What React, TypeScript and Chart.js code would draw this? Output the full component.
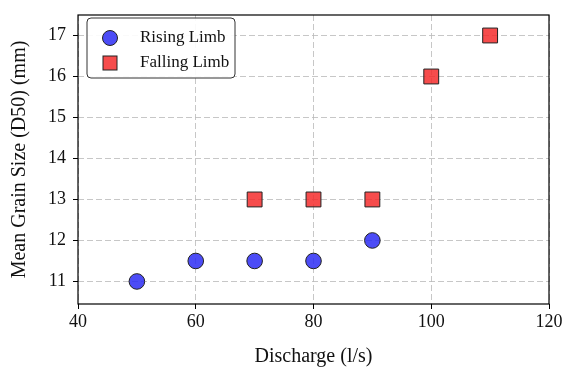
import React, { useEffect, useRef } from "react";
import { Chart, registerables } from "chart.js";

Chart.register(...registerables);

const risingX = [50, 60, 70, 80, 90];
const risingY = [11, 11.5, 11.5, 11.5, 12];
const fallingX = [70, 80, 90, 100, 110];
const fallingY = [13, 13, 13, 16, 17];
const xTicks = [40, 60, 80, 100, 120];
const yTicks = [11, 12, 13, 14, 15, 16, 17];
const seriesNames = ["Rising Limb", "Falling Limb"];

const FONT = "'Liberation Serif', 'Times New Roman', serif";
const BLUE = "rgba(45,45,245,0.85)";
const RED = "rgba(245,45,45,0.85)";

const framePlugin = {
  id: "frame",
  afterDraw(chart: any) {
    const { ctx, chartArea: a } = chart;
    ctx.save();
    ctx.strokeStyle = "#000";
    ctx.lineWidth = 1.2;
    ctx.setLineDash([]);
    ctx.strokeRect(a.left, a.top, a.right - a.left, a.bottom - a.top);

    // legend
    const lx = a.left + 9, ly = a.top + 3, lw = 148, lh = 60;
    const r = 4;
    ctx.beginPath();
    ctx.moveTo(lx + r, ly);
    ctx.lineTo(lx + lw - r, ly);
    ctx.quadraticCurveTo(lx + lw, ly, lx + lw, ly + r);
    ctx.lineTo(lx + lw, ly + lh - r);
    ctx.quadraticCurveTo(lx + lw, ly + lh, lx + lw - r, ly + lh);
    ctx.lineTo(lx + r, ly + lh);
    ctx.quadraticCurveTo(lx, ly + lh, lx, ly + lh - r);
    ctx.lineTo(lx, ly + r);
    ctx.quadraticCurveTo(lx, ly, lx + r, ly);
    ctx.closePath();
    ctx.fillStyle = "rgba(255,255,255,0.9)";
    ctx.fill();
    ctx.strokeStyle = "#333";
    ctx.lineWidth = 1;
    ctx.stroke();

    ctx.font = `17px ${FONT}`;
    ctx.textBaseline = "middle";
    ctx.textAlign = "left";
    const y1 = ly + 20, y2 = ly + 45;
    ctx.beginPath();
    ctx.arc(lx + 23, y1, 7.5, 0, Math.PI * 2);
    ctx.fillStyle = BLUE;
    ctx.fill();
    ctx.strokeStyle = "#222";
    ctx.lineWidth = 1;
    ctx.stroke();
    ctx.fillStyle = "#111";
    ctx.fillText(seriesNames[0], lx + 53, y1);
    ctx.fillStyle = RED;
    ctx.fillRect(lx + 16, y2 - 7, 14, 14);
    ctx.strokeStyle = "#222";
    ctx.strokeRect(lx + 16, y2 - 7, 14, 14);
    ctx.fillStyle = "#111";
    ctx.fillText(seriesNames[1], lx + 53, y2);
    ctx.restore();
  },
};

const gridOpts = {
  color: "rgba(185,185,185,0.8)",
  tickColor: "#000",
  tickLength: 5,
  tickBorderDash: [],
  tickWidth: 1,
  lineWidth: 1,
};

export default function App() {
  const ref = useRef<HTMLCanvasElement>(null);
  useEffect(() => {
    const chart = new Chart(ref.current!, {
      type: "scatter",
      data: {
        datasets: [
          {
            label: seriesNames[0],
            data: risingX.map((x, i) => ({ x, y: risingY[i] })),
            pointStyle: "circle",
            pointRadius: 7.8,
            backgroundColor: BLUE,
            borderColor: "#222",
            borderWidth: 1,
          },
          {
            label: seriesNames[1],
            data: fallingX.map((x, i) => ({ x, y: fallingY[i] })),
            pointStyle: "rect",
            pointRadius: 10.5,
            backgroundColor: RED,
            borderColor: "#222",
            borderWidth: 1,
          },
        ],
      },
      options: {
        animation: false,
        responsive: false,
        layout: { padding: { left: 0, right: 16, top: 15, bottom: 0 } },
        plugins: { legend: { display: false }, tooltip: { enabled: false } },
        scales: {
          x: {
            type: "linear",
            min: 40,
            max: 120,
            afterBuildTicks: (s: any) => {
              s.ticks = xTicks.map((v) => ({ value: v }));
            },
            afterFit: (s: any) => {
              s.height = 69;
              s.paddingLeft = 0;
              s.paddingRight = 0;
            },
            border: { display: false, dash: [6, 3] },
            grid: gridOpts,
            ticks: {
              color: "#111",
              font: { family: FONT, size: 18 },
              padding: 2,
              maxRotation: 0,
            },
            title: {
              display: true,
              text: "Discharge (l/s)",
              color: "#111",
              font: { family: FONT, size: 20 },
              padding: { top: 4, bottom: 4 },
            },
          },
          y: {
            type: "linear",
            min: 10.45,
            max: 17.5,
            afterBuildTicks: (s: any) => {
              s.ticks = yTicks.map((v) => ({ value: v }));
            },
            afterFit: (s: any) => {
              s.width = 78;
              s.paddingTop = 0;
              s.paddingBottom = 0;
            },
            border: { display: false, dash: [6, 3] },
            grid: gridOpts,
            ticks: {
              color: "#111",
              font: { family: FONT, size: 18 },
              padding: 7,
            },
            title: {
              display: true,
              text: "Mean Grain Size (D50) (mm)",
              color: "#111",
              font: { family: FONT, size: 20 },
              padding: { top: 8, bottom: 0 },
            },
          },
        },
      },
      plugins: [framePlugin],
    } as any);
    return () => chart.destroy();
  }, []);
  return (
    <div style={{ position: "fixed", left: 0, top: 0, width: 565, height: 373, background: "#fff" }}>
      <canvas ref={ref} width={565} height={373} style={{ width: 565, height: 373 }} />
    </div>
  );
}
